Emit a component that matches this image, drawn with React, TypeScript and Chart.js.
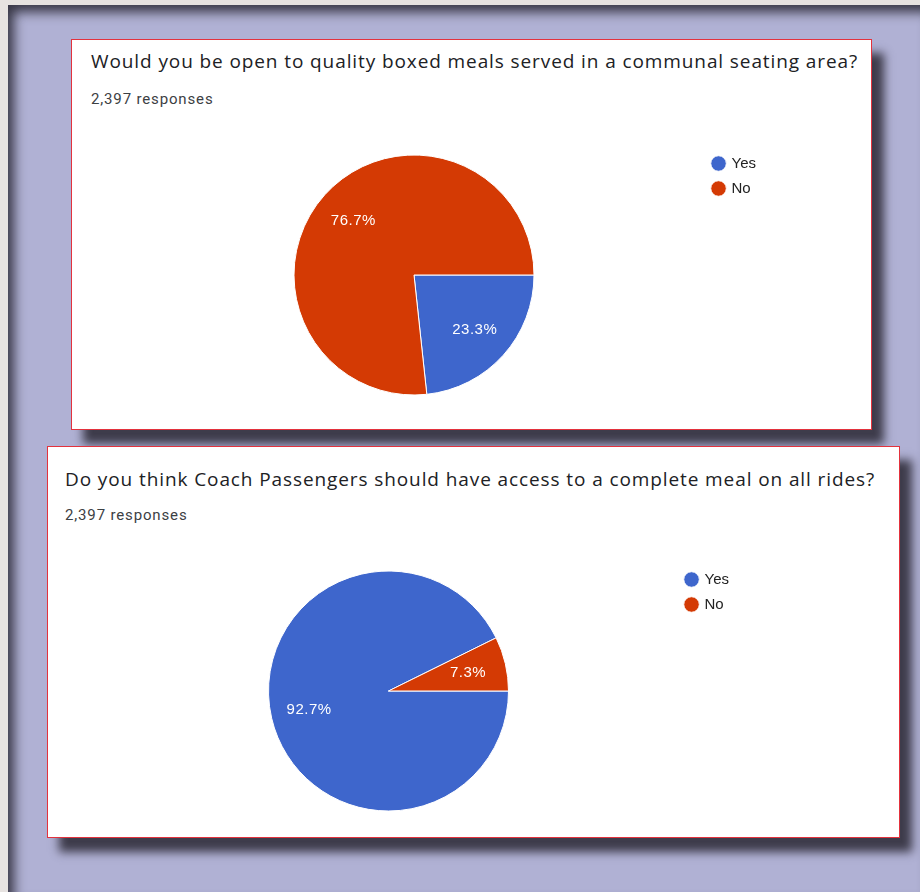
import React, { useEffect, useRef } from "react";
import { Chart, registerables } from "chart.js";

Chart.register(...registerables);

const answerLabels = ["Yes", "No"];
const sliceColors = ["#3e66cc", "#d43a04"];

const q1Title = "Would you be open to quality boxed meals served in a communal seating area?";
const q1Responses = "2,397 responses";
const q1Values = [23.3, 76.7];

const q2Title = "Do you think Coach Passengers should have access to a complete meal on all rides?";
const q2Responses = "2,397 responses";
const q2Values = [92.7, 7.3];

const pctLabelPlugin = {
  id: "pctLabels",
  afterDatasetsDraw(chart: any) {
    const ctx = chart.ctx;
    const meta = chart.getDatasetMeta(0);
    const data: number[] = chart.data.datasets[0].data;
    const total = data.reduce((a, b) => a + b, 0);
    ctx.save();
    ctx.font = '15px "Liberation Sans", Arial, sans-serif';
    try {
      (ctx as any).letterSpacing = "0.5px";
    } catch (e) {}
    ctx.fillStyle = "#ffffff";
    ctx.textAlign = "center";
    ctx.textBaseline = "middle";
    meta.data.forEach((arc: any, i: number) => {
      const p = arc.getProps(["x", "y", "startAngle", "endAngle", "outerRadius"], true);
      const mid = (p.startAngle + p.endAngle) / 2;
      const r = p.outerRadius * 0.68;
      const txt = ((data[i] / total) * 100).toFixed(1) + "%";
      ctx.fillText(txt, p.x + Math.cos(mid) * r, p.y + Math.sin(mid) * r);
    });
    ctx.restore();
  },
};

type PieProps = {
  values: number[];
  left: number;
  top: number;
  width: number;
  height: number;
  padLeft: number;
  padRight: number;
};

function PieCanvas({ values, left, top, width, height, padLeft, padRight }: PieProps) {
  const ref = useRef<HTMLCanvasElement | null>(null);
  useEffect(() => {
    if (!ref.current) return;
    const chart = new Chart(ref.current, {
      type: "pie",
      data: {
        labels: answerLabels,
        datasets: [
          {
            data: values,
            backgroundColor: sliceColors,
            borderColor: "#ffffff",
            borderWidth: 1,
            hoverOffset: 0,
            radius: 120,
          } as any,
        ],
      },
      options: {
        animation: false,
        responsive: false,
        devicePixelRatio: 1,
        rotation: 90,
        layout: { padding: { left: padLeft, right: padRight, top: 0, bottom: 0 } },
        plugins: {
          tooltip: { enabled: false },
          legend: {
            position: "right",
            align: "start",
            labels: {
              usePointStyle: true,
              pointStyle: "circle",
              boxWidth: 11,
              boxHeight: 11,
              padding: 10,
              color: "#222222",
              font: { family: '"Liberation Sans", Arial, sans-serif', size: 15 },
            },
          },
        },
      },
      plugins: [pctLabelPlugin],
    });
    return () => chart.destroy();
  }, []);
  return (
    <canvas
      ref={ref}
      width={width}
      height={height}
      style={{ position: "absolute", left, top, width, height }}
    />
  );
}

type CardProps = {
  title: string;
  responses: string;
  left: number;
  top: number;
  width: number;
  height: number;
  textLeft: number;
  titleY: number;
  subY: number;
};

function Card({ title, responses, left, top, width, height, textLeft, titleY, subY }: CardProps) {
  return (
    <div
      style={{
        position: "absolute",
        left,
        top,
        width,
        height,
        boxSizing: "border-box",
        background: "#ffffff",
        border: "1px solid #e3323d",
        boxShadow: "12px 14px 9px rgba(58,56,70,0.97)",
      }}
    >
      <div
        style={{
          position: "absolute",
          left: textLeft,
          top: titleY - 12,
          lineHeight: "24px",
          fontFamily: '"Open Sans", Roboto, sans-serif',
          fontSize: 19,
          letterSpacing: "0.9px",
          color: "#202124",
          whiteSpace: "nowrap",
        }}
      >
        {title}
      </div>
      <div
        style={{
          position: "absolute",
          left: textLeft,
          top: subY - 10,
          lineHeight: "20px",
          fontFamily: 'Roboto, "Noto Sans", sans-serif',
          fontSize: 15,
          letterSpacing: "0.85px",
          color: "#3c4043",
          whiteSpace: "nowrap",
        }}
      >
        {responses}
      </div>
    </div>
  );
}

export default function App() {
  return (
    <div
      style={{
        position: "absolute",
        left: 0,
        top: 0,
        width: 920,
        height: 892,
        background: "#e7e3e1",
        overflow: "hidden",
      }}
    >
      <div
        style={{
          position: "absolute",
          left: 8,
          top: 5,
          width: 912,
          height: 887,
          background: "#b0b1d4",
          boxShadow: "inset 8px 9px 12px -2px rgba(50,48,62,0.95)",
        }}
      />
      <Card
        title={q1Title}
        responses={q1Responses}
        left={71}
        top={39}
        width={801}
        height={391}
        textLeft={19}
        titleY={21}
        subY={59}
      />
      <Card
        title={q2Title}
        responses={q2Responses}
        left={47}
        top={446}
        width={853}
        height={392}
        textLeft={17}
        titleY={32}
        subY={68}
      />
      <PieCanvas values={q1Values} left={72} top={146} width={798} height={258} padLeft={53} padRight={104} />
      <PieCanvas values={q2Values} left={48} top={562} width={850} height={258} padLeft={53} padRight={159} />
    </div>
  );
}
